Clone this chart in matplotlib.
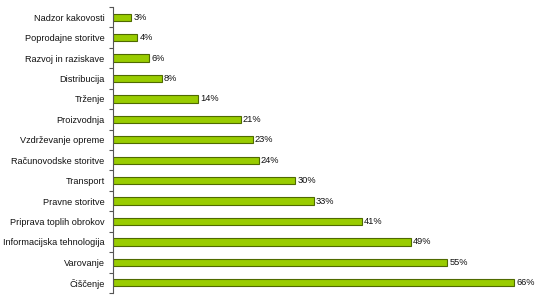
import numpy as np
import matplotlib
matplotlib.use('Agg')
from matplotlib import pyplot as plt

# data, top to bottom as shown
categories = ['Nadzor kakovosti', 'Poprodajne storitve', 'Razvoj in raziskave',
              'Distribucija', 'Trženje', 'Proizvodnja', 'Vzdrževanje opreme',
              'Računovodske storitve', 'Transport', 'Pravne storitve',
              'Priprava toplih obrokov', 'Informacijska tehnologija',
              'Varovanje', 'Čiščenje']
values = [3, 4, 6, 8, 14, 21, 23, 24, 30, 33, 41, 49, 55, 66]

plt.rcParams['font.family'] = ['Liberation Sans', 'DejaVu Sans']

fig = plt.figure(figsize=(5.45, 3.02), dpi=100)
ax = fig.add_axes([113/545, 9/302, 432/545, 286/302])

y = np.arange(len(categories))
ax.barh(y, values, height=0.36, color='#99cc00', edgecolor='#4f6a00', linewidth=0.8)

for yi, v in zip(y, values):
    ax.text(v + 0.35, yi, str(v) + '%', va='center', ha='left',
            fontsize=6.7, color='#111111')

ax.set_xlim(0, 71.1)
ax.set_ylim(len(categories) - 0.5, -0.5)

ax.set_yticks(y)
ax.set_yticklabels(categories, fontsize=6.6, color='#111111')
ax.tick_params(axis='y', which='major', length=0, pad=6)
ax.set_yticks(np.arange(-0.5, len(categories)), minor=True)
ax.tick_params(axis='y', which='minor', length=3, width=0.8, color='#555555', direction='out')
ax.set_xticks([])

for s in ['top', 'right', 'bottom']:
    ax.spines[s].set_visible(False)
ax.spines['left'].set_color('#555555')
ax.spines['left'].set_linewidth(0.8)

plt.savefig('out.png', dpi=100)
